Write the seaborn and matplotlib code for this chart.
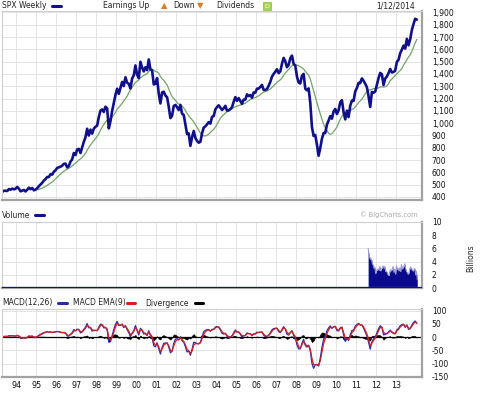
import numpy as np
import pandas as pd
import matplotlib
matplotlib.use("Agg")
import matplotlib.pyplot as plt
from matplotlib.lines import Line2D
from matplotlib.patches import Rectangle
import seaborn as sns

W, H = 482, 396

# SPX month-end closes, Apr 1993 .. Jan 2014
spx_1993 = [440.2, 450.2, 450.5, 448.1, 463.6, 458.9, 467.8, 461.8, 466.5]
spx_1994 = [481.6, 467.1, 445.8, 450.9, 456.5, 444.3, 458.3, 475.5, 462.7, 472.4, 453.7, 459.3]
spx_1995 = [470.4, 487.4, 500.7, 514.7, 533.4, 544.8, 562.1, 561.9, 584.4, 581.5, 605.4, 615.9]
spx_1996 = [636.0, 640.4, 645.5, 654.2, 669.1, 670.6, 640.0, 652.0, 687.3, 705.3, 757.0, 740.7]
spx_1997 = [786.2, 790.8, 757.1, 801.3, 848.3, 885.1, 954.3, 899.5, 947.3, 914.6, 955.4, 970.4]
spx_1998 = [980.3, 1049.3, 1101.8, 1111.8, 1090.8, 1133.8, 1120.7, 957.3, 1017.0, 1098.7, 1163.6, 1229.2]
spx_1999 = [1279.6, 1238.3, 1286.4, 1335.2, 1301.8, 1372.7, 1328.7, 1320.4, 1282.7, 1362.9, 1388.9, 1469.3]
spx_2000 = [1394.5, 1366.4, 1498.6, 1452.4, 1420.6, 1454.6, 1430.8, 1517.7, 1436.5, 1429.4, 1315.0, 1320.3]
spx_2001 = [1366.0, 1239.9, 1160.3, 1249.5, 1255.8, 1224.4, 1211.2, 1133.6, 1040.9, 1059.8, 1139.5, 1148.1]
spx_2002 = [1130.2, 1106.7, 1147.4, 1076.9, 1067.1, 989.8, 911.6, 916.1, 815.3, 885.8, 936.3, 879.8]
spx_2003 = [855.7, 841.2, 848.2, 916.9, 963.6, 974.5, 990.3, 1008.0, 996.0, 1050.7, 1058.2, 1111.9]
spx_2004 = [1131.1, 1144.9, 1126.2, 1107.3, 1120.7, 1140.8, 1101.7, 1104.2, 1114.6, 1130.2, 1173.8, 1211.9]
spx_2005 = [1181.3, 1203.6, 1180.6, 1156.9, 1191.5, 1191.3, 1234.2, 1220.3, 1228.8, 1207.0, 1249.5, 1248.3]
spx_2006 = [1280.1, 1280.7, 1294.9, 1310.6, 1270.1, 1270.2, 1276.7, 1303.8, 1335.9, 1377.9, 1400.6, 1418.3]
spx_2007 = [1438.2, 1406.8, 1420.9, 1482.4, 1530.6, 1503.4, 1455.3, 1474.0, 1526.8, 1549.4, 1481.1, 1468.4]
spx_2008 = [1378.6, 1330.6, 1322.7, 1385.6, 1400.4, 1280.0, 1267.4, 1282.8, 1166.4, 968.8, 896.2, 903.3]
spx_2009 = [825.9, 735.1, 797.9, 872.8, 919.1, 919.3, 987.5, 1020.6, 1057.1, 1036.2, 1095.6, 1115.1]
spx_2010 = [1073.9, 1104.5, 1169.4, 1186.7, 1089.4, 1030.7, 1101.6, 1049.3, 1141.2, 1183.3, 1180.6, 1257.6]
spx_2011 = [1286.1, 1327.2, 1325.8, 1363.6, 1345.2, 1320.6, 1292.3, 1218.9, 1131.4, 1253.3, 1247.0, 1257.6]
spx_2012 = [1312.4, 1365.7, 1408.5, 1397.9, 1310.3, 1362.2, 1379.3, 1406.6, 1440.7, 1412.2, 1416.2, 1426.2]
spx_2013 = [1498.1, 1514.7, 1569.2, 1597.6, 1630.7, 1606.3, 1685.7, 1633.0, 1681.6, 1756.5, 1805.8, 1848.4]
spx_2014 = [1842.4]
first_month = (1993, 4)

# volume (billions), two readings per month from Aug 2011 to Jan 2014
volume_start = (2011, 8)
volume = [6.0, 5.1, 4.6, 4.3, 4.4, 3.7, 3.5, 3.0, 3.2, 2.2,
          2.6, 2.8, 2.9, 2.7, 3.3, 2.6, 2.9, 3.1, 3.4, 3.0,
          3.3, 2.5, 2.6, 2.3, 2.0, 1.9, 2.5, 2.8, 2.6, 2.9,
          3.3, 2.4, 2.9, 2.1, 3.4, 2.8, 3.0, 2.6, 3.1, 2.5,
          3.6, 2.9, 3.1, 3.3, 3.7, 3.0, 2.5, 2.4, 2.1, 2.3,
          2.9, 3.2, 3.0, 2.7, 2.6, 2.8, 3.0, 2.0, 2.6, 1.3]

years = list(range(1994, 2014))
year_labels = [f"{y % 100:02d}" for y in years]
price_ticks = list(range(400, 2000, 100))
volume_ticks = [0, 2, 4, 6, 8, 10]
macd_ticks = [100, 50, 0, -50, -100, -150]

NAVY = "#10108a"
GREEN = "#72a468"
MACD_BLUE = "#2a2ab0"
MACD_RED = "#d42020"
GRID = "#e4e4e4"
FS = 5.5


def fx(px):
    return px / W


def fy(py):
    return 1 - py / H


def build_frames():
    closes = (spx_1993 + spx_1994 + spx_1995 + spx_1996 + spx_1997 + spx_1998 + spx_1999
              + spx_2000 + spx_2001 + spx_2002 + spx_2003 + spx_2004 + spx_2005 + spx_2006
              + spx_2007 + spx_2008 + spx_2009 + spx_2010 + spx_2011 + spx_2012 + spx_2013
              + spx_2014)
    y0, m0 = first_month
    t = y0 + (m0 - 1 + np.arange(len(closes)) + 0.5) / 12
    df = pd.DataFrame({"t": t, "close": closes})

    # ~52 week average, counted from 1994
    df["ma"] = df["close"].where(df["t"] >= 1994).rolling(12).mean()

    # weekly MACD(12,26) / EMA(9) expressed in months
    wpm = 52 / 12
    fast = df["close"].ewm(span=12 / wpm, adjust=False).mean()
    slow = df["close"].ewm(span=26 / wpm, adjust=False).mean()
    df["macd"] = fast - slow
    df["signal"] = df["macd"].ewm(span=max(9 / wpm, 1.0), adjust=False).mean()
    df["div"] = df["macd"] - df["signal"]

    vy, vm = volume_start
    tv = vy + (vm - 1 + np.arange(len(volume)) * 0.5 + 0.25) / 12
    vol = pd.DataFrame({"t": tv, "volume": volume})
    return df, vol


def style_axes(ax, ticks, labels, ylim):
    ax.set_xlim(1993.28, 2014.3)
    ax.set_ylim(*ylim)
    ax.set_xticks(years)
    ax.set_yticks(ticks)
    ax.set_yticklabels(labels)
    ax.yaxis.tick_right()
    ax.tick_params(axis="y", length=0, pad=7, labelsize=FS, labelcolor="#111111")
    ax.tick_params(axis="x", length=0, pad=3, labelsize=FS + 0.3, labelcolor="#111111")
    ax.grid(True, color=GRID, linewidth=0.7)
    ax.set_xlabel("")
    ax.set_ylabel("")
    for side in ("top", "left"):
        ax.spines[side].set_color("#cfcfcf")
        ax.spines[side].set_linewidth(0.8)
    for side in ("right", "bottom"):
        ax.spines[side].set_color("#a2a2a2")
        ax.spines[side].set_linewidth(1.6)
    ax.set_facecolor("white")


def legend_dash(fig, x0, x1, y, color):
    fig.add_artist(Line2D([fx(x0), fx(x1)], [fy(y), fy(y)], color=color, linewidth=2.2,
                          transform=fig.transFigure))


def plot_chart(df, vol):
    sns.set_theme(style="white")
    plt.rcParams["font.family"] = ["DejaVu Sans"]
    plt.rcParams["axes.unicode_minus"] = False

    fig = plt.figure(figsize=(W / 100, H / 100), dpi=100)
    fig.patch.set_facecolor("white")

    ax_p = fig.add_axes([fx(2), fy(200), fx(420), (200 - 11) / H])
    ax_v = fig.add_axes([fx(2), fy(288.3), fx(420), (288.3 - 221.7) / H])
    ax_m = fig.add_axes([fx(2), fy(377.3), fx(420), (377.3 - 309.3) / H])

    # price panel
    sns.lineplot(data=df, x="t", y="ma", ax=ax_p, color=GREEN, linewidth=0.9, legend=False)
    sns.lineplot(data=df, x="t", y="close", ax=ax_p, color=NAVY, linewidth=1.9, legend=False)
    style_axes(ax_p, price_ticks, [f"{v:,}" for v in price_ticks], (375, 1912))
    ax_p.set_xticklabels([])

    # volume panel
    ax_v.axhline(0, color=NAVY, linewidth=1.6, zorder=3)
    ax_v.fill_between(vol["t"], 0, vol["volume"], color="#0a0a8c", linewidth=0, zorder=2)
    sns.lineplot(data=vol, x="t", y="volume", ax=ax_v, color="#9a9ad8", linewidth=0.7, legend=False)
    style_axes(ax_v, volume_ticks, [str(v) for v in volume_ticks], (0, 10))
    ax_v.set_xticklabels([])

    # MACD panel
    ax_m.fill_between(df["t"], 0, df["div"], color="black", linewidth=0.4, zorder=2)
    ax_m.axhline(0, color="black", linewidth=0.9, zorder=2)
    sns.lineplot(data=df, x="t", y="macd", ax=ax_m, color=MACD_BLUE, linewidth=0.9, legend=False)
    sns.lineplot(data=df, x="t", y="signal", ax=ax_m, color=MACD_RED, linewidth=0.9, legend=False)
    style_axes(ax_m, macd_ticks, [str(v) for v in macd_ticks], (-152, 105))
    ax_m.set_xticklabels(year_labels)

    # header rows
    kw = dict(fontsize=FS, color="#222222", va="center", ha="left")
    fig.text(fx(2), fy(6), "SPX Weekly", **kw)
    legend_dash(fig, 52, 61, 6, NAVY)
    fig.text(fx(103), fy(6), "Earnings Up", **kw)
    fig.text(fx(161), fy(6), "\u25b2", fontsize=6, color="#e07a22", va="center", ha="left")
    fig.text(fx(173), fy(6), "Down", **kw)
    fig.text(fx(197), fy(6), "\u25bc", fontsize=6, color="#e07a22", va="center", ha="left")
    fig.text(fx(216), fy(6), "Dividends", **kw)
    fig.add_artist(Rectangle((fx(263), fy(10)), fx(8), 8 / H, facecolor="#a6d44a",
                             edgecolor="#88b838", linewidth=0.5, transform=fig.transFigure))
    fig.text(fx(267), fy(6), "D", fontsize=4.5, color="#f4ffe0", va="center", ha="center")
    fig.text(fx(376), fy(6), "1/12/2014", **kw)

    fig.text(fx(2), fy(215), "Volume", **kw)
    legend_dash(fig, 35, 44, 215, NAVY)
    fig.text(fx(418), fy(215), "\u00a9 BigCharts.com", fontsize=4.8, color="#a8a8a8",
             va="center", ha="right")
    fig.text(fx(471), fy(258), "Billions", fontsize=FS, color="#222222", rotation=90,
             va="center", ha="center")

    fig.text(fx(2), fy(303), "MACD(12,26)", **kw)
    legend_dash(fig, 58, 67, 303, MACD_BLUE)
    fig.text(fx(73), fy(303), "MACD EMA(9)", **kw)
    legend_dash(fig, 127, 135, 303, MACD_RED)
    fig.text(fx(145), fy(303), "Divergence", **kw)
    legend_dash(fig, 195, 203, 303, "black")

    fig.savefig("out.png", dpi=100, facecolor="white")


if __name__ == "__main__":
    prices, volumes = build_frames()
    plot_chart(prices, volumes)
